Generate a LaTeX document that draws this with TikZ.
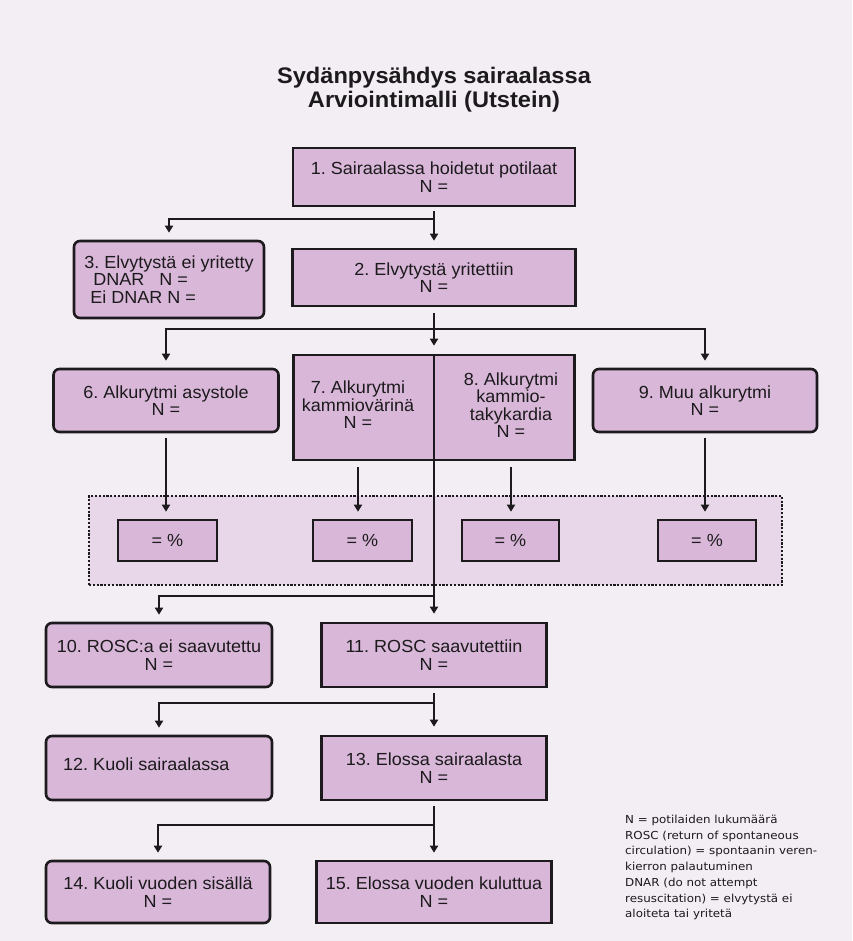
\documentclass[tikz,border=0pt]{standalone}
\usepackage{fontspec}
\setmainfont{Liberation Sans}[FakeStretch=1.03]
\newfontfamily\titlefont{Liberation Sans}[FakeStretch=1.05]
\newfontfamily\legendfont{DejaVu Sans}[FakeStretch=1.08]
\usetikzlibrary{arrows.meta}
\definecolor{bg}{HTML}{F3EEF4}
\definecolor{boxfill}{HTML}{D8B7D8}
\definecolor{zone}{HTML}{E8D7E9}
\definecolor{ink}{HTML}{1C1A1C}
\frenchspacing
\begin{document}
\begin{tikzpicture}[x=1pt,y=-1pt,
  sq/.style={draw=ink, line width=2.6pt, fill=boxfill, inner sep=0pt, align=center,
    font=\fontsize{17.5}{17.5}\selectfont, text=ink},
  rd/.style={sq, rounded corners=6pt},
  conn/.style={draw=ink, line width=2.2pt},
  arr/.style={conn, -{Triangle[length=7pt,width=8pt]}, shorten >=7pt},
  txt/.style={inner sep=0pt, align=center, font=\fontsize{17.5}{17.5}\selectfont, text=ink},
]
\fill[bg] (0,0) rectangle (852,941);
\useasboundingbox (0,0) rectangle (852,941);

% title
\node[inner sep=0pt, align=center, text=ink, font=\titlefont\bfseries\fontsize{22.5}{24}\selectfont] (title) at (434,90)
  {Sydänpysähdys sairaalassa\\Arviointimalli (Utstein)};

% dotted zone
\node[draw=ink, fill=zone, line width=2.4pt, dash pattern=on 2.2pt off 1.6pt,
  minimum width=693pt, minimum height=89pt, inner sep=0pt] (zone) at (435.5,540.5) {};

% boxes
\node[sq, minimum width=282pt, minimum height=58pt] (b1) at (434,177) {1. Sairaalassa hoidetut potilaat\\N =};
\node[rd, minimum width=190pt, minimum height=77pt, align=left] (b3) at (169,279.5)
  {3. Elvytystä ei yritetty\\\hspace*{9pt}\makebox[66pt][l]{DNAR}N =\\\hspace*{6pt}Ei DNAR N =};
\node[sq, minimum width=283pt, minimum height=57pt] (b2) at (434,277.5) {2. Elvytystä yritettiin\\N =};
\node[rd, minimum width=225pt, minimum height=63pt] (b6) at (166,400.5) {6. Alkurytmi asystole\\N =};
\node[sq, minimum width=281pt, minimum height=105pt] (b78) at (434,407.5) {};
\node[txt] (t7) at (358,405) {7. Alkurytmi\\kammiovärinä\\N =};
\node[txt] (t8) at (511,405) {8. Alkurytmi\\kammio-\\takykardia\\N =};
\node[rd, minimum width=224pt, minimum height=63pt] (b9) at (705,400.5) {9. Muu alkurytmi\\N =};

\node[sq, minimum width=99pt, minimum height=41pt] (p6) at (167.5,540.5) {= \%};
\node[sq, minimum width=99pt, minimum height=41pt] (p7) at (362.5,540.5) {= \%};
\node[sq, minimum width=97pt, minimum height=41pt] (p8) at (510.5,540.5) {= \%};
\node[sq, minimum width=98pt, minimum height=41pt] (p9) at (707,540.5) {= \%};

\node[rd, minimum width=226pt, minimum height=64pt] (b10) at (159,655) {10. ROSC:a ei saavutettu\\N =};
\node[sq, minimum width=225pt, minimum height=64pt] (b11) at (434,655) {11. ROSC saavutettiin\\N =};
\node[rd, minimum width=226pt, minimum height=64pt] (b12) at (159,768) {};
\node[txt, anchor=west] (t12) at (63,764) {12. Kuoli sairaalassa};
\node[sq, minimum width=225pt, minimum height=64pt] (b13) at (434,768) {13. Elossa sairaalasta\\N =};
\node[rd, minimum width=224pt, minimum height=62pt] (b14) at (158,892) {14. Kuoli vuoden sisällä\\N =};
\node[sq, minimum width=235pt, minimum height=62pt] (b15) at (434,892) {15. Elossa vuoden kuluttua\\N =};

% legend
\node[inner sep=0pt, anchor=north west, align=left, text=ink,
  font=\legendfont\fontsize{11}{15.7}\selectfont] (legend) at (625,815)
  {N = potilaiden lukumäärä\\ROSC (return of spontaneous\\circulation) = spontaanin veren-\\kierron palautuminen\\DNAR (do not attempt\\resuscitation) = elvytystä ei\\aloiteta tai yritetä};

% junctions
\coordinate (j1) at (434,219);
\coordinate (j2) at (434,329);
\coordinate (j3) at (434,596);
\coordinate (j4) at (434,703);
\coordinate (j5) at (434,825);

% connectors
\draw[arr, shorten <=4pt] (b1.south) -- (b2.north);
\draw[arr] (j1) -| (b3.north);
\draw[arr, shorten <=6pt, shorten >=8pt] (b2.south) -- (b78.north);
\draw[arr] (j2) -| (b6.north);
\draw[arr] (j2) -| (b9.north);
\draw[conn] (b78.north) -- (b78.south);
\draw[arr, shorten >=8pt] (b78.south) -- (b11.north);
\draw[arr] (j3) -| (b10.north);
\draw[arr, shorten <=5pt] (b6.south) -- (b6.south |- p6.north);
\draw[arr, shorten <=6pt] (t7 |- b78.south) -- (t7 |- p7.north);
\draw[arr, shorten <=6pt] (t8 |- b78.south) -- (t8 |- p8.north);
\draw[arr, shorten <=5pt] (b9.south) -- (b9.south |- p9.north);
\draw[arr, shorten <=5pt, shorten >=8pt] (b11.south) -- (b13.north);
\draw[arr] (j4) -| (b12.north);
\draw[arr, shorten <=5pt] (b13.south) -- (b15.north);
\draw[arr] (j5) -| (b14.north);
\end{tikzpicture}
\end{document}
